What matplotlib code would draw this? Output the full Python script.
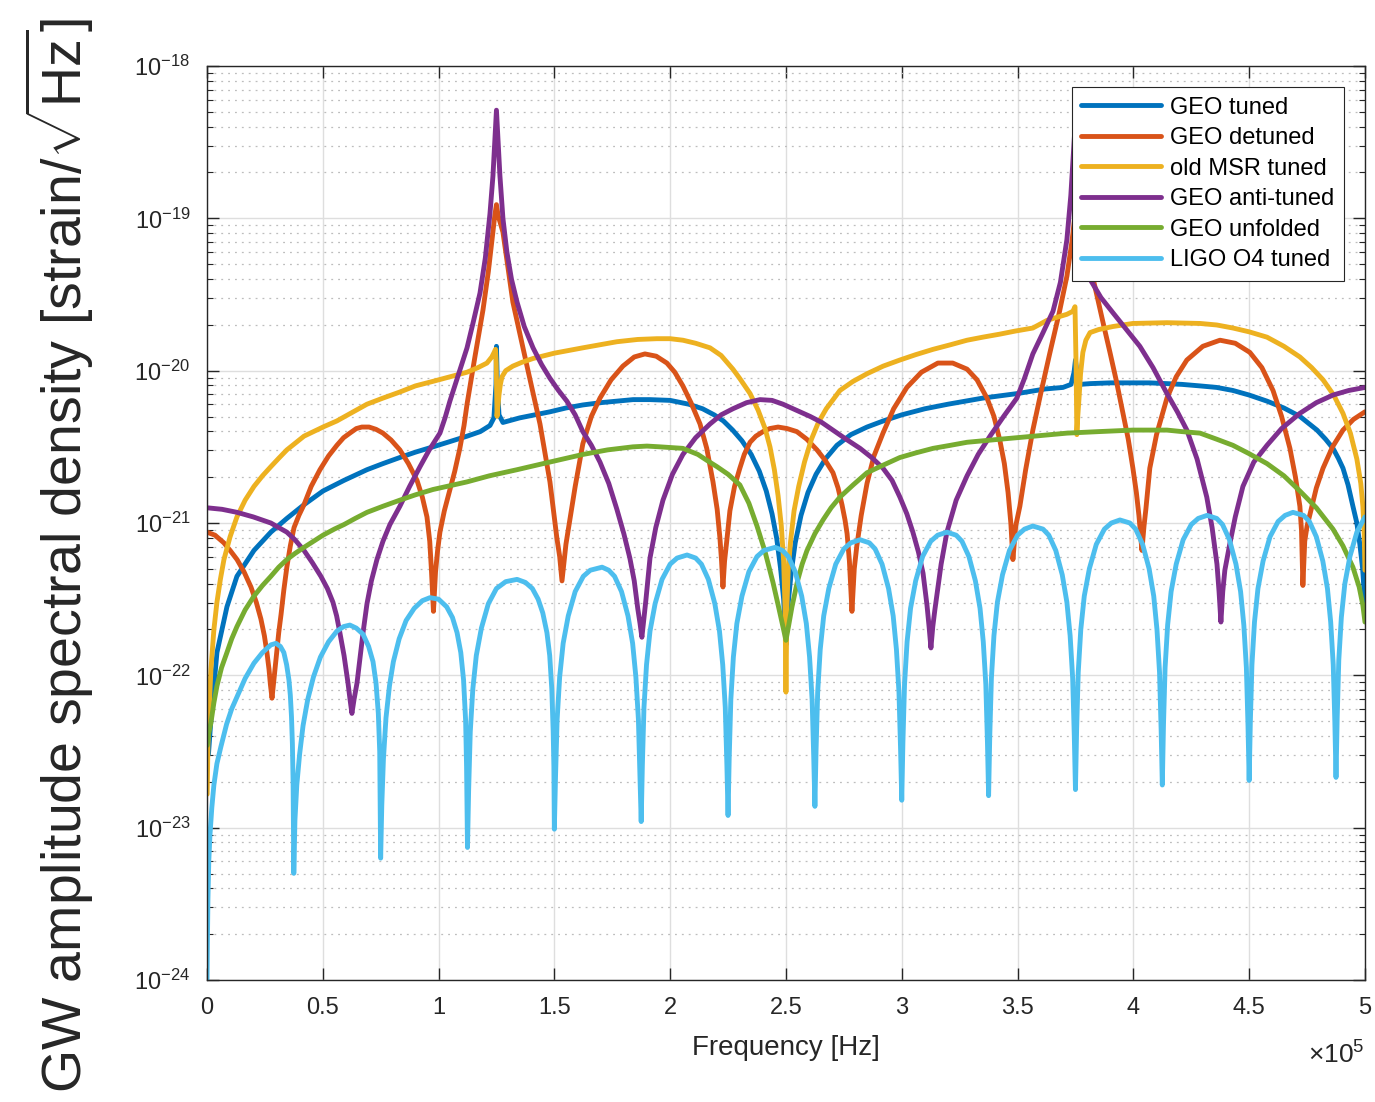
import numpy as np
import matplotlib
matplotlib.use('Agg')
import matplotlib.pyplot as plt
from matplotlib.ticker import FixedLocator, FuncFormatter, NullFormatter, LogFormatterSciNotation

plt.rcParams['font.family'] = ['Liberation Sans', 'DejaVu Sans']
plt.rcParams['mathtext.fontset'] = 'custom'
plt.rcParams['mathtext.rm'] = 'Liberation Sans'
plt.rcParams['mathtext.it'] = 'Liberation Sans:italic'
plt.rcParams['mathtext.bf'] = 'Liberation Sans:bold'

# (frequency in kHz, log10 of ASD in strain/sqrt(Hz)) pairs
geo_tuned = [
    (0.65, -22.52), (1.73, -22.29), (4.32, -21.85), (8.64, -21.55), (12.95, -21.35),
    (20.3, -21.18), (27.6, -21.06), (34.5, -20.97), (41.9, -20.88), (50.1, -20.79),
    (59.2, -20.72), (69.1, -20.65), (76.0, -20.61), (83.3, -20.57), (90.0, -20.535),
    (97.6, -20.50), (105.0, -20.465), (112.3, -20.43), (118.0, -20.40), (122.2, -20.36),
    (123.9, -20.31), (124.8, -20.09), (125.0, -19.84), (125.4, -20.09), (126.1, -20.29),
    (127.8, -20.34), (135.0, -20.31), (148.1, -20.27), (155.0, -20.245), (162.3, -20.225),
    (170.0, -20.21), (177.0, -20.20), (184.0, -20.19), (191.3, -20.19), (200.0, -20.195),
    (208.0, -20.22), (214.0, -20.25), (219.0, -20.29), (223.0, -20.33), (227.0, -20.39),
    (231.0, -20.46), (235.0, -20.55), (238.5, -20.66), (241.5, -20.79), (244.0, -20.94),
    (246.0, -21.10), (247.7, -21.30), (249.0, -21.50), (250.0, -21.80), (251.0, -21.52),
    (252.3, -21.32), (254.0, -21.13), (256.5, -20.95), (259.5, -20.80), (263.0, -20.68),
    (267.0, -20.58), (272.0, -20.49), (278.0, -20.42), (285.0, -20.37), (292.0, -20.33),
    (300.0, -20.29), (310.0, -20.25), (320.0, -20.22), (335.0, -20.18), (350.0, -20.15),
    (362.0, -20.12), (369.6, -20.11), (373.1, -20.09), (374.4, -20.01), (375.0, -19.93),
    (375.6, -20.01), (376.9, -20.09), (381.3, -20.085), (390.0, -20.08), (399.8, -20.08),
    (407.0, -20.08), (414.5, -20.085), (421.0, -20.09), (428.8, -20.10), (436.0, -20.11),
    (443.0, -20.13), (450.0, -20.16), (457.7, -20.20), (465.0, -20.245), (471.9, -20.30),
    (476.0, -20.35), (479.3, -20.39), (483.0, -20.45), (486.2, -20.51), (488.5, -20.575),
    (490.5, -20.64), (492.7, -20.75), (494.8, -20.89), (496.5, -21.00), (497.8, -21.14),
    (499.0, -21.30), (500.0, -21.54)]

geo_detuned = [
    (0.0, -21.06), (3.5, -21.08), (7.3, -21.13), (10.0, -21.18), (13.0, -21.24),
    (16.0, -21.32), (19.0, -21.42), (21.3, -21.52), (23.3, -21.63), (24.8, -21.74),
    (25.9, -21.85), (26.8, -21.96), (27.4, -22.06), (28.1, -22.15), (28.9, -22.03),
    (29.6, -21.92), (30.2, -21.83), (31.0, -21.72), (32.0, -21.60), (33.2, -21.44),
    (34.5, -21.29), (36.0, -21.15), (37.6, -21.03), (39.7, -20.95), (41.9, -20.88),
    (45.0, -20.76), (48.8, -20.65), (52.5, -20.56), (56.1, -20.49), (59.0, -20.44),
    (61.7, -20.41), (64.5, -20.38), (66.9, -20.37), (70.0, -20.37), (73.0, -20.385),
    (76.0, -20.41), (79.5, -20.455), (83.3, -20.52), (87.0, -20.61), (90.7, -20.72),
    (93.0, -20.83), (95.0, -20.96), (96.2, -21.12), (96.9, -21.30), (97.8, -21.58),
    (98.7, -21.32), (99.6, -21.18), (100.6, -21.06), (102.5, -20.92), (104.9, -20.78),
    (107.0, -20.66), (109.2, -20.51), (111.0, -20.36), (112.3, -20.22), (115.7, -19.91),
    (119.2, -19.60), (121.5, -19.35), (123.5, -19.09), (124.3, -18.98), (125.0, -18.91),
    (125.7, -18.98), (127.8, -19.09), (132.1, -19.55), (138.2, -19.97), (143.8, -20.35),
    (148.1, -20.73), (151.1, -21.10), (152.3, -21.22), (153.3, -21.38), (154.2, -21.25),
    (155.0, -21.14), (156.7, -20.98), (159.0, -20.76), (162.3, -20.48), (166.0, -20.30),
    (169.7, -20.18), (174.5, -20.06), (179.6, -19.97), (184.5, -19.91), (189.1, -19.89),
    (194.0, -19.905), (198.6, -19.95), (202.0, -20.01), (205.5, -20.10), (209.0, -20.21),
    (212.9, -20.35), (215.8, -20.51), (218.5, -20.73), (220.3, -20.91), (221.5, -21.10),
    (222.2, -21.25), (222.8, -21.42), (223.5, -21.25), (224.5, -21.11), (225.8, -20.92),
    (227.8, -20.76), (230.1, -20.64), (232.0, -20.55), (234.5, -20.47), (237.0, -20.43),
    (240.1, -20.40), (243.0, -20.38), (246.6, -20.37), (250.5, -20.38), (254.7, -20.40),
    (259.0, -20.45), (263.4, -20.52), (267.0, -20.59), (270.3, -20.67), (272.5, -20.77),
    (274.2, -20.88), (275.5, -20.98), (276.4, -21.07), (277.4, -21.25), (278.5, -21.58),
    (279.5, -21.30), (280.6, -21.15), (282.5, -20.95), (285.0, -20.74), (288.0, -20.56),
    (291.9, -20.41), (296.5, -20.25), (302.2, -20.11), (308.5, -20.01), (315.6, -19.95),
    (322.0, -19.95), (328.2, -19.99), (332.5, -20.06), (336.8, -20.18), (339.8, -20.30),
    (342.4, -20.46), (344.3, -20.61), (345.9, -20.80), (347.1, -21.00), (348.0, -21.24),
    (349.2, -21.02), (351.0, -20.89), (353.5, -20.65), (356.6, -20.39), (360.0, -20.15),
    (364.0, -19.88), (368.0, -19.62), (371.3, -19.38), (373.5, -19.15), (375.0, -18.95),
    (377.0, -19.02), (379.1, -19.14), (381.5, -19.32), (384.3, -19.51), (387.0, -19.69),
    (389.9, -19.88), (392.7, -20.07), (395.5, -20.28), (397.8, -20.45), (399.8, -20.64),
    (401.3, -20.80), (402.4, -20.95), (403.7, -21.18), (404.6, -21.02), (405.4, -20.91),
    (407.1, -20.64), (410.0, -20.42), (414.5, -20.18), (418.5, -20.04), (423.1, -19.93),
    (430.0, -19.84), (437.4, -19.80), (444.0, -19.82), (450.3, -19.88), (455.5, -19.98),
    (460.3, -20.13), (464.0, -20.30), (467.6, -20.51), (470.0, -20.70), (471.9, -20.89),
    (472.6, -21.05), (473.2, -21.41), (474.0, -21.12), (475.0, -21.02), (476.3, -20.94),
    (479.0, -20.77), (481.9, -20.64), (486.0, -20.50), (490.5, -20.39), (495.0, -20.32),
    (500.0, -20.27)]

old_msr_tuned = [
    (0.1, -22.78), (0.43, -22.46), (1.0, -22.20), (1.73, -21.96), (3.0, -21.70),
    (4.32, -21.52), (5.8, -21.37), (7.34, -21.24), (10.0, -21.09), (12.95, -20.96),
    (16.5, -20.85), (20.3, -20.76), (24.0, -20.69), (27.6, -20.63), (31.0, -20.575),
    (34.5, -20.52), (41.9, -20.43), (50.1, -20.37), (56.1, -20.33), (62.0, -20.28),
    (69.1, -20.22), (76.0, -20.18), (83.3, -20.14), (90.0, -20.10), (97.6, -20.07),
    (105.0, -20.04), (112.3, -20.01), (117.0, -19.98), (120.9, -19.95), (123.0, -19.91),
    (124.0, -19.88), (124.6, -19.86), (124.9, -19.95), (125.1, -20.15), (125.25, -20.30),
    (125.6, -20.24), (126.1, -20.16), (126.7, -20.09), (127.4, -20.04), (129.0, -20.00),
    (132.1, -19.97), (136.0, -19.945), (140.8, -19.92), (150.0, -19.885), (162.3, -19.85),
    (177.0, -19.81), (186.0, -19.795), (194.3, -19.79), (200.0, -19.79), (205.5, -19.80),
    (211.0, -19.82), (217.2, -19.85), (222.0, -19.90), (227.1, -19.99), (230.0, -20.05),
    (234.5, -20.15), (238.0, -20.26), (241.0, -20.38), (243.1, -20.50), (245.0, -20.65),
    (246.6, -20.82), (248.0, -21.02), (249.0, -21.25), (249.6, -21.55), (250.0, -22.11),
    (250.4, -21.55), (251.0, -21.30), (252.0, -21.12), (253.5, -20.92), (255.5, -20.76),
    (258.0, -20.60), (261.0, -20.45), (264.0, -20.34), (267.4, -20.25), (273.3, -20.13),
    (279.0, -20.07), (285.0, -20.02), (292.0, -19.97), (299.2, -19.93), (306.0, -19.895),
    (313.5, -19.86), (321.0, -19.83), (328.2, -19.80), (335.0, -19.78), (342.4, -19.76),
    (349.0, -19.74), (356.6, -19.72), (362.7, -19.67), (368.0, -19.645), (371.3, -19.63),
    (373.9, -19.61), (374.8, -19.58), (375.3, -19.99), (375.6, -20.42), (376.0, -20.30),
    (376.5, -20.19), (377.2, -20.02), (378.2, -19.88), (379.5, -19.80), (381.3, -19.75),
    (385.0, -19.73), (391.2, -19.71), (399.8, -19.69), (414.5, -19.685), (428.8, -19.69),
    (436.0, -19.70), (443.0, -19.72), (450.0, -19.745), (457.7, -19.78), (465.0, -19.84),
    (471.9, -19.91), (477.0, -19.98), (481.9, -20.06), (486.5, -20.16), (490.5, -20.28),
    (493.7, -20.41), (496.5, -20.58), (498.2, -20.74), (499.1, -20.89), (499.7, -21.08),
    (500.0, -21.31)]

geo_anti_tuned = [
    (0.0, -20.90), (6.5, -20.91), (13.0, -20.93), (20.0, -20.96), (27.6, -21.00),
    (31.0, -21.03), (34.5, -21.06), (38.0, -21.11), (41.9, -21.18), (45.5, -21.26),
    (49.2, -21.35), (52.0, -21.43), (54.4, -21.52), (56.0, -21.61), (57.4, -21.72),
    (59.2, -21.87), (60.9, -22.05), (61.8, -22.16), (62.6, -22.25), (63.5, -22.16),
    (64.8, -22.05), (66.2, -21.87), (67.4, -21.72), (69.1, -21.53), (71.0, -21.38),
    (73.4, -21.24), (76.0, -21.12), (79.0, -21.01), (83.3, -20.89), (87.5, -20.76),
    (92.0, -20.63), (96.0, -20.52), (100.6, -20.41), (102.8, -20.31), (104.9, -20.20),
    (108.5, -20.03), (112.3, -19.85), (115.0, -19.68), (117.9, -19.49), (120.2, -19.26),
    (122.2, -18.97), (123.5, -18.72), (124.4, -18.46), (125.0, -18.29), (125.6, -18.46),
    (126.5, -18.72), (127.8, -19.00), (129.5, -19.22), (131.5, -19.40), (133.9, -19.55),
    (137.0, -19.71), (140.8, -19.85), (144.5, -19.96), (148.1, -20.05), (151.8, -20.13),
    (155.4, -20.20), (159.0, -20.29), (162.3, -20.40), (166.0, -20.49), (169.7, -20.60),
    (173.5, -20.74), (177.0, -20.91), (180.0, -21.07), (182.6, -21.23), (184.5, -21.38),
    (186.0, -21.56), (187.0, -21.66), (187.8, -21.75), (188.6, -21.64), (189.5, -21.51),
    (191.3, -21.23), (193.8, -21.03), (196.9, -20.85), (201.0, -20.68), (205.5, -20.55),
    (211.0, -20.44), (217.2, -20.35), (222.0, -20.29), (227.1, -20.25), (233.0, -20.21),
    (238.8, -20.19), (244.0, -20.195), (248.7, -20.22), (254.5, -20.26), (260.4, -20.30),
    (265.5, -20.34), (270.3, -20.39), (276.0, -20.45), (282.0, -20.51), (287.0, -20.57),
    (291.9, -20.64), (295.8, -20.72), (299.2, -20.83), (302.2, -20.94), (304.8, -21.06),
    (307.2, -21.19), (309.2, -21.33), (310.9, -21.54), (311.8, -21.68), (312.6, -21.82),
    (313.4, -21.68), (314.3, -21.57), (315.2, -21.47), (317.0, -21.27), (319.5, -21.06),
    (323.5, -20.85), (328.2, -20.69), (333.0, -20.55), (338.1, -20.43), (344.0, -20.30),
    (349.7, -20.18), (353.0, -20.05), (356.6, -19.89), (361.0, -19.75), (365.3, -19.61),
    (368.5, -19.42), (371.3, -19.14), (373.0, -18.85), (375.0, -18.35), (377.0, -18.85),
    (379.1, -19.14), (381.3, -19.40), (386.0, -19.52), (391.2, -19.62), (397.0, -19.73),
    (402.8, -19.84), (408.5, -19.98), (414.5, -20.15), (419.0, -20.27), (423.1, -20.39),
    (427.5, -20.58), (431.7, -20.83), (434.0, -21.03), (436.1, -21.27), (437.0, -21.45),
    (437.8, -21.65), (438.6, -21.45), (439.5, -21.31), (441.6, -21.14), (444.0, -20.96),
    (447.3, -20.76), (452.0, -20.60), (457.7, -20.49), (464.0, -20.38), (471.9, -20.28),
    (479.0, -20.21), (486.2, -20.16), (493.0, -20.13), (500.0, -20.11)]

geo_unfolded = [
    (0.1, -22.46), (0.8, -22.38), (1.73, -22.31), (3.0, -22.18), (4.32, -22.07),
    (6.3, -21.95), (8.64, -21.85), (10.7, -21.76), (12.95, -21.68), (16.5, -21.57),
    (20.3, -21.48), (24.0, -21.41), (27.6, -21.35), (31.0, -21.29), (34.5, -21.24),
    (38.0, -21.20), (41.9, -21.16), (46.0, -21.12), (50.1, -21.08), (55.0, -21.04),
    (59.2, -21.01), (64.0, -20.97), (69.1, -20.93), (76.0, -20.89), (83.3, -20.85),
    (90.0, -20.815), (97.6, -20.78), (105.0, -20.755), (112.3, -20.73), (122.0, -20.69),
    (133.9, -20.65), (148.0, -20.60), (162.3, -20.55), (173.0, -20.52), (183.9, -20.50),
    (190.0, -20.495), (195.6, -20.50), (205.5, -20.51), (212.0, -20.55), (216.0, -20.59),
    (220.2, -20.63), (225.0, -20.68), (230.1, -20.75), (234.0, -20.87), (237.5, -21.02),
    (241.0, -21.19), (244.4, -21.39), (246.8, -21.55), (248.7, -21.68), (250.0, -21.77),
    (251.2, -21.67), (252.6, -21.55), (255.0, -21.38), (257.0, -21.27), (259.1, -21.18),
    (262.5, -21.07), (266.0, -20.98), (269.5, -20.90), (273.3, -20.83), (279.0, -20.75),
    (285.0, -20.67), (292.0, -20.62), (299.2, -20.57), (306.0, -20.54), (313.5, -20.51),
    (321.0, -20.49), (328.2, -20.47), (342.4, -20.45), (357.0, -20.43), (371.3, -20.41),
    (385.0, -20.40), (399.8, -20.39), (414.5, -20.39), (421.0, -20.40), (428.8, -20.41),
    (436.0, -20.45), (443.0, -20.49), (450.0, -20.545), (457.7, -20.61), (465.0, -20.69),
    (471.9, -20.79), (479.0, -20.90), (486.2, -21.04), (490.5, -21.15), (494.8, -21.29),
    (497.5, -21.42), (499.1, -21.54), (500.0, -21.65)]

ligo_o4_tuned = [
    (0.05, -24.00), (0.2, -23.75), (0.43, -23.47), (0.8, -23.22), (1.3, -23.05),
    (2.1, -22.87), (3.0, -22.72), (4.3, -22.58), (6.0, -22.47), (8.5, -22.32),
    (10.7, -22.22), (13.0, -22.14), (16.5, -22.02), (20.3, -21.92), (24.0, -21.85),
    (27.6, -21.80), (29.8, -21.79), (31.7, -21.81), (33.2, -21.85), (34.4, -21.93),
    (35.4, -22.03), (36.0, -22.13), (36.5, -22.27), (36.9, -22.45), (37.2, -22.70),
    (37.5, -23.30), (38.0, -22.95), (38.8, -22.72), (40.0, -22.52), (41.5, -22.33),
    (43.5, -22.16), (46.0, -22.01), (49.0, -21.88), (52.5, -21.78), (56.1, -21.71),
    (59.0, -21.68), (61.7, -21.67), (64.5, -21.69), (67.4, -21.73), (69.8, -21.81),
    (71.7, -21.91), (73.0, -22.05), (74.0, -22.25), (74.6, -22.50),
    (75.0, -23.20), (75.5, -22.85), (76.2, -22.55), (77.3, -22.28), (78.8, -22.07),
    (80.5, -21.91), (83.0, -21.76), (86.0, -21.64), (89.5, -21.56), (93.0, -21.51),
    (96.3, -21.49), (100.0, -21.50), (103.5, -21.55), (106.0, -21.62), (108.0, -21.72),
    (109.6, -21.85), (110.8, -22.03), (111.7, -22.30), (112.1, -22.60),
    (112.5, -23.13), (113.0, -22.75), (113.7, -22.37), (114.8, -22.09), (116.3, -21.87),
    (118.5, -21.69), (121.5, -21.53), (125.0, -21.43), (129.0, -21.385), (133.9, -21.37),
    (137.5, -21.39), (140.5, -21.43), (143.0, -21.50), (145.0, -21.59), (146.8, -21.72),
    (148.0, -21.87), (148.9, -22.09), (149.5, -22.37), (149.8, -22.60),
    (150.0, -23.01), (150.5, -22.67), (151.2, -22.29), (152.3, -22.01), (153.8, -21.79),
    (156.0, -21.61), (159.0, -21.45), (162.5, -21.35), (165.5, -21.31), (170.6, -21.29),
    (173.5, -21.31), (176.0, -21.35), (179.0, -21.45), (181.8, -21.61), (183.8, -21.79),
    (185.2, -22.01), (186.3, -22.29), (187.0, -22.67),
    (187.5, -22.96), (188.0, -22.59), (188.7, -22.21), (189.8, -21.93), (191.3, -21.71),
    (193.5, -21.53), (196.5, -21.37), (200.0, -21.27), (203.0, -21.23), (207.3, -21.21),
    (211.0, -21.23), (213.5, -21.27), (216.5, -21.37), (219.3, -21.53), (221.3, -21.71),
    (222.7, -21.93), (223.8, -22.21), (224.5, -22.59),
    (225.0, -22.92), (225.5, -22.54), (226.2, -22.16), (227.3, -21.88), (228.8, -21.66),
    (231.0, -21.48), (234.0, -21.32), (237.5, -21.22), (240.5, -21.18), (245.3, -21.16),
    (248.5, -21.18), (251.0, -21.22), (254.0, -21.32), (256.8, -21.48), (258.8, -21.66),
    (260.2, -21.88), (261.3, -22.16), (262.0, -22.54),
    (262.5, -22.86), (263.0, -22.49), (263.7, -22.11), (264.8, -21.83), (266.3, -21.61),
    (268.5, -21.43), (271.5, -21.27), (275.0, -21.17), (278.0, -21.13), (282.0, -21.11),
    (286.0, -21.13), (288.5, -21.17), (291.5, -21.27), (294.3, -21.43), (296.3, -21.61),
    (297.7, -21.83), (298.8, -22.11), (299.5, -22.49),
    (300.0, -22.82), (300.5, -22.44), (301.2, -22.06), (302.3, -21.78), (303.8, -21.56),
    (306.0, -21.38), (309.0, -21.22), (312.5, -21.12), (315.5, -21.08), (319.5, -21.06),
    (323.5, -21.08), (326.0, -21.12), (329.0, -21.22), (331.8, -21.38), (333.8, -21.56),
    (335.2, -21.78), (336.3, -22.06), (337.0, -22.44),
    (337.5, -22.79), (338.0, -22.40), (338.7, -22.02), (339.8, -21.74), (341.3, -21.52),
    (343.5, -21.34), (346.5, -21.18), (350.0, -21.08), (353.0, -21.04), (356.6, -21.02),
    (361.0, -21.04), (363.5, -21.08), (366.5, -21.18), (369.3, -21.34), (371.3, -21.52),
    (372.7, -21.74), (373.8, -22.02), (374.5, -22.40),
    (375.0, -22.75), (375.5, -22.36), (376.2, -21.98), (377.3, -21.70), (378.8, -21.48),
    (381.0, -21.30), (384.0, -21.14), (387.5, -21.04), (390.5, -21.00), (394.2, -20.98),
    (398.5, -21.00), (401.0, -21.04), (404.0, -21.14), (406.8, -21.30), (408.8, -21.48),
    (410.2, -21.70), (411.3, -21.98), (412.0, -22.36),
    (412.5, -22.72), (413.0, -22.33), (413.7, -21.95), (414.8, -21.67), (416.3, -21.45),
    (418.5, -21.27), (421.5, -21.11), (425.0, -21.01), (428.0, -20.97), (431.8, -20.95),
    (436.0, -20.97), (438.5, -21.01), (441.5, -21.11), (444.3, -21.27), (446.3, -21.45),
    (447.7, -21.67), (448.8, -21.95), (449.5, -22.33),
    (450.0, -22.69), (450.5, -22.31), (451.2, -21.93), (452.3, -21.65), (453.8, -21.43),
    (456.0, -21.25), (459.0, -21.09), (462.5, -20.99), (465.5, -20.95), (468.9, -20.93),
    (473.5, -20.95), (476.0, -20.99), (479.0, -21.09), (481.8, -21.25), (483.8, -21.43),
    (485.2, -21.65), (486.3, -21.93), (487.0, -22.31),
    (487.5, -22.67), (488.0, -22.28), (488.7, -21.90), (489.8, -21.62), (491.3, -21.40),
    (493.5, -21.22), (496.5, -21.06), (500.0, -20.96)]

labels = ['GEO tuned', 'GEO detuned', 'old MSR tuned', 'GEO anti-tuned', 'GEO unfolded', 'LIGO O4 tuned']
colors = ['#0072BD', '#D95319', '#EDB120', '#7E2F8E', '#77AC30', '#4DBEEE']
series = [geo_tuned, geo_detuned, old_msr_tuned, geo_anti_tuned, geo_unfolded, ligo_o4_tuned]

x_ticks = [0, 0.5, 1, 1.5, 2, 2.5, 3, 3.5, 4, 4.5, 5]   # in units of 1e5 Hz
y_decades = [-24, -23, -22, -21, -20, -19, -18]

fig = plt.figure(figsize=(13.75, 11.02), dpi=100)
ax = fig.add_axes([0.1505, 0.1107, 0.8422, 0.8294])

for pts, lab, c in zip(series, labels, colors):
    f_khz, log_asd = np.array(pts).T
    ax.plot(f_khz * 1e3, 10.0 ** log_asd, color=c, lw=3.5, label=lab,
            solid_joinstyle='round', solid_capstyle='round')

ax.set_yscale('log')
ax.set_xlim(0, 5e5)
ax.set_ylim(1e-24, 1e-18)

# ticks only inside the view range
ax.xaxis.set_major_locator(FixedLocator([t * 1e5 for t in x_ticks]))
ax.xaxis.set_major_formatter(FuncFormatter(lambda v, p: f'{v / 1e5:g}'))
ax.yaxis.set_major_locator(FixedLocator([10.0 ** d for d in y_decades]))
ax.yaxis.set_major_formatter(LogFormatterSciNotation())
minor_y = [m * 10.0 ** d for d in y_decades[:-1] for m in range(2, 10)]
ax.yaxis.set_minor_locator(FixedLocator(minor_y))
ax.yaxis.set_minor_formatter(NullFormatter())
ax.xaxis.set_minor_locator(FixedLocator([]))

ax.grid(True, which='major', color='#dedede', lw=1.0)
ax.grid(True, which='minor', axis='y', color='#bdbdbd', ls=(0, (1.5, 4)), lw=0.9)
ax.set_axisbelow(True)

ax.tick_params(which='both', direction='in', top=True, right=True, color='#262626',
               labelsize=17, labelcolor='#262626')
ax.tick_params(which='major', length=8.5, width=1.0, pad=12)
ax.tick_params(which='minor', length=4.5, width=0.8)
for s in ax.spines.values():
    s.set_color('#262626')
    s.set_linewidth(1.0)

ax.set_xlabel('Frequency [Hz]', fontsize=20, color='#262626', labelpad=12)
fig.text(0.9927, 0.043, r'$\times\mathdefault{10^{5}}$', ha='right', va='center',
         fontsize=19, color='#262626')
fig.text(0.043, 0.4955, r'GW amplitude spectral density [strain/$\sqrt{\mathrm{Hz}}$]',
         rotation=90, ha='center', va='center', fontsize=40, color='#262626')

leg = ax.legend(loc='upper right', fontsize=17, handlelength=3.35, handletextpad=0.4,
                labelspacing=0.36, borderpad=0.4, borderaxespad=0.9, fancybox=False,
                framealpha=1.0, edgecolor='#262626')
leg.get_frame().set_linewidth(0.8)

fig.savefig('out.png', dpi=100)
